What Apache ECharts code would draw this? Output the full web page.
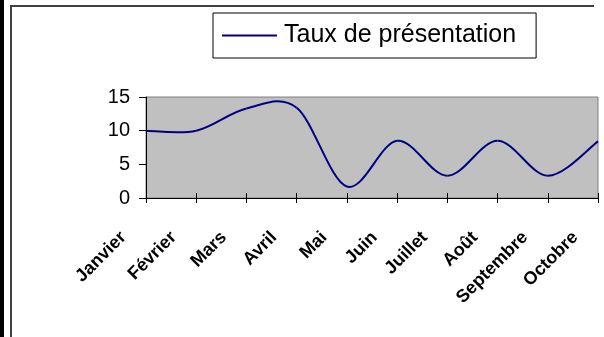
<!DOCTYPE html>
<html>
<head>
<meta charset="utf-8">
<script src="https://cdn.jsdelivr.net/npm/echarts@6/dist/echarts.min.js"></script>
<style>
  html, body { margin: 0; padding: 0; background: #fff; }
  #chart { width: 604px; height: 337px; }
</style>
</head>
<body>
<div id="chart"></div>
<script>
// Monthly attendance rate
const months = ['Janvier', 'Février', 'Mars', 'Avril', 'Mai', 'Juin', 'Juillet', 'Août', 'Septembre', 'Octobre'];
const taux = [10.0, 10.0, 13.3, 13.4, 1.7, 8.5, 3.3, 8.5, 3.3, 8.4];
const yTicks = [0, 5, 10, 15];
const seriesName = 'Taux de présentation';

const LINE_COLOR = '#000080';

// Smoothed curve: one cubic Bezier per segment, Catmull-Rom tangents
function renderSegment(params, api) {
  const i = params.dataIndex;
  if (i === 0) return null;
  const n = taux.length;
  const pt = k => api.coord([k, taux[k]]);
  const a = pt(Math.max(i - 2, 0));
  const b = pt(i - 1);
  const c = pt(i);
  const d = pt(Math.min(i + 1, n - 1));
  return {
    type: 'bezierCurve',
    shape: {
      x1: b[0], y1: b[1],
      x2: c[0], y2: c[1],
      cpx1: b[0] + (c[0] - a[0]) / 6,
      cpy1: b[1] + (c[1] - a[1]) / 6,
      cpx2: c[0] - (d[0] - b[0]) / 6,
      cpy2: c[1] - (d[1] - b[1]) / 6
    },
    style: { stroke: LINE_COLOR, lineWidth: 2, fill: null }
  };
}

const chart = echarts.init(document.getElementById('chart'), null, { renderer: 'canvas' });

chart.setOption({
  animation: false,
  backgroundColor: '#ffffff',
  textStyle: { fontFamily: 'Liberation Sans, Arial, sans-serif' },
  graphic: [
    { type: 'rect', shape: { x: 0, y: 0, width: 4, height: 337 }, style: { fill: '#000' } },
    { type: 'line', shape: { x1: 11, y1: 5, x2: 11, y2: 337 }, style: { stroke: '#404040', lineWidth: 2 } },
    { type: 'line', shape: { x1: 10, y1: 6, x2: 594, y2: 6 }, style: { stroke: '#404040', lineWidth: 2 } }
  ],
  legend: {
    left: 213,
    top: 13,
    orient: 'horizontal',
    padding: [10, 20, 10, 9],
    borderColor: '#000',
    borderWidth: 1,
    backgroundColor: '#fff',
    itemWidth: 55,
    itemHeight: 2,
    textStyle: { fontSize: 25, color: '#000', padding: [0, 0, 0, 2] },
    data: [{ name: seriesName, icon: 'rect' }]
  },
  grid: {
    left: 146,
    right: 6,
    top: 97,
    bottom: 139,
    show: true,
    backgroundColor: '#C0C0C0',
    borderColor: '#808080',
    borderWidth: 1
  },
  xAxis: [
    {
      type: 'category',
      data: months,
      boundaryGap: false,
      axisLine: { show: true, lineStyle: { color: '#000', width: 1 } },
      axisTick: { show: true, inside: false, length: 5, interval: 0, lineStyle: { color: '#000' } },
      axisLabel: {
        interval: 0,
        rotate: 45,
        margin: 14,
        fontSize: 18,
        fontWeight: 'bold',
        color: '#000',
        padding: [0, 32, 0, 0]
      },
      splitLine: { show: false }
    },
    {
      type: 'category',
      data: months,
      boundaryGap: false,
      position: 'bottom',
      axisLine: { show: false },
      axisTick: { show: true, inside: true, length: 5, interval: 0, lineStyle: { color: '#000' } },
      axisLabel: { show: false },
      splitLine: { show: false }
    }
  ],
  yAxis: {
    type: 'value',
    min: yTicks[0],
    max: yTicks[yTicks.length - 1],
    interval: yTicks[1] - yTicks[0],
    axisLine: { show: true, lineStyle: { color: '#000', width: 1 } },
    axisTick: { show: true, inside: false, length: 7, lineStyle: { color: '#000' } },
    axisLabel: { margin: 16, fontSize: 20, color: '#000' },
    splitLine: { show: false }
  },
  series: [
    {
      name: seriesName,
      type: 'custom',
      xAxisIndex: 0,
      yAxisIndex: 0,
      itemStyle: { color: LINE_COLOR },
      renderItem: renderSegment,
      data: taux.map((v, i) => [i, v]),
      encode: { x: 0, y: 1 },
      z: 3
    }
  ]
});
</script>
</body>
</html>
